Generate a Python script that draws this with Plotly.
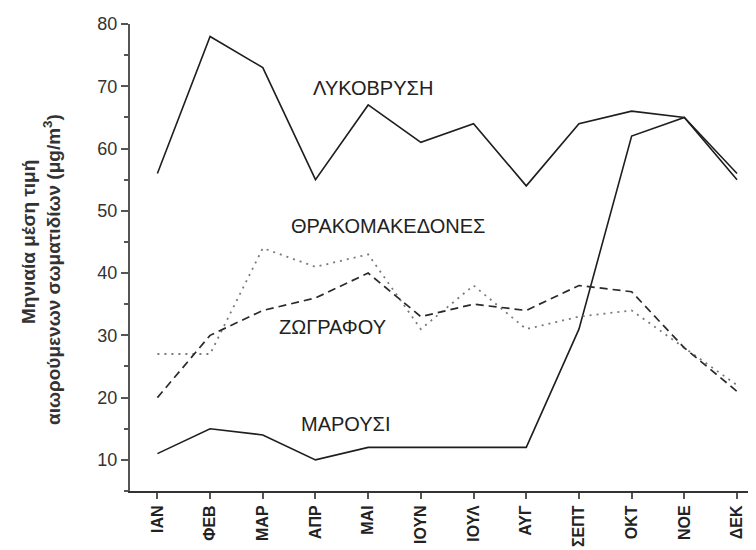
import plotly.graph_objects as go

# ── Data ──────────────────────────────────────────────────────────────────────
MONTHS = ["ΙΑΝ", "ΦΕΒ", "ΜΑΡ", "ΑΠΡ", "ΜΑΙ", "ΙΟΥΝ",
          "ΙΟΥΛ", "ΑΥΓ", "ΣΕΠΤ", "ΟΚΤ", "ΝΟΕ", "ΔΕΚ"]

lykovrysi = [56, 78, 73, 55, 67, 61, 64, 54, 64, 66, 65, 56]
thrakomakedones = [27, 27, 44, 41, 43, 31, 38, 31, 33, 34, 28, 22]
zografou = [20, 30, 34, 36, 40, 33, 35, 34, 38, 37, 28, 21]
marousi = [11, 15, 14, 10, 12, 12, 12, 12, 31, 62, 65, 55]

# label text, x (month index), y (value)
LABELS = [
    ("ΛΥΚΟΒΡΥΣΗ", 4.1, 69.8),
    ("ΘΡΑΚΟΜΑΚΕΔΟΝΕΣ", 4.37, 47.5),
    ("ΖΩΓΡΑΦΟΥ", 3.32, 31.3),
    ("ΜΑΡΟΥΣΙ", 3.57, 15.8),
]

TITLE_LINES = ["Μηνιαία μέση τιμή",
               "αιωρούμενων σωματιδίων (μg/m<sup>3</sup>)"]

_FONT = "Arial, Liberation Sans, sans-serif"
_AXIS_COL = "#555555"

# The page body has an 8px default margin, so the figure is drawn 8px
# smaller and the plot area is placed to land where the reference has it.
W, H = 748, 542
L, T, PW, PH = 122, 16, 626, 467


def _px(fx, fy):
    """Figure-pixel position -> paper coordinates."""
    return (fx - L) / PW, 1 - (fy - T) / PH


idx = list(range(len(MONTHS)))

fig = go.Figure()
fig.add_trace(go.Scatter(x=idx, y=lykovrysi, mode="lines",
                         line=dict(color="#1e1e1e", width=1.6)))
fig.add_trace(go.Scatter(x=idx, y=marousi, mode="lines",
                         line=dict(color="#1e1e1e", width=1.6)))
fig.add_trace(go.Scatter(x=idx, y=thrakomakedones, mode="lines",
                         line=dict(color="#7a7a7a", width=1.8, dash="2px,5px")))
fig.add_trace(go.Scatter(x=idx, y=zografou, mode="lines",
                         line=dict(color="#2a2a2a", width=1.7, dash="8px,5px")))

for text, x, y in LABELS:
    fig.add_annotation(x=x, y=y, text=text, showarrow=False,
                       font=dict(family=_FONT, size=20, color="#222222"))

# two-line y-axis title, each line placed on its own
for (text, fx, fy) in zip(TITLE_LINES, [20, 44], [234, 262]):
    px, py = _px(fx, fy)
    fig.add_annotation(xref="paper", yref="paper", x=px, y=py,
                       text=f"<b>{text}</b>", showarrow=False, textangle=-90,
                       xanchor="center", yanchor="middle",
                       font=dict(family=_FONT, size=19, color="#333333"))

fig.update_layout(
    width=W, height=H,
    paper_bgcolor="white", plot_bgcolor="white",
    showlegend=False,
    margin=dict(l=L, r=W - L - PW, t=T, b=H - T - PH, autoexpand=False),
    font=dict(family=_FONT, color="#333333"),
    xaxis=dict(
        range=[-0.52, 11.36],
        automargin=False,
        tickmode="array", tickvals=idx, ticktext=MONTHS,
        tickangle=-90,
        tickfont=dict(size=16, color="#222222", family=_FONT, weight="bold"),
        ticks="outside", ticklen=6, tickcolor=_AXIS_COL, tickwidth=1.5,
        showline=True, linecolor="#333333", linewidth=2,
        showgrid=False, zeroline=False,
    ),
    yaxis=dict(
        range=[5, 80],
        automargin=False,
        tickmode="linear", tick0=0, dtick=10,
        tickfont=dict(size=18, color="#333333"),
        ticks="outside", ticklen=7, tickcolor=_AXIS_COL, tickwidth=1.5,
        minor=dict(ticks="outside", dtick=5, tick0=0, ticklen=4,
                   tickcolor=_AXIS_COL, tickwidth=1.5),
        showline=True, linecolor=_AXIS_COL, linewidth=2,
        showgrid=False, zeroline=False,
    ),
)

fig.write_html("out.html")
